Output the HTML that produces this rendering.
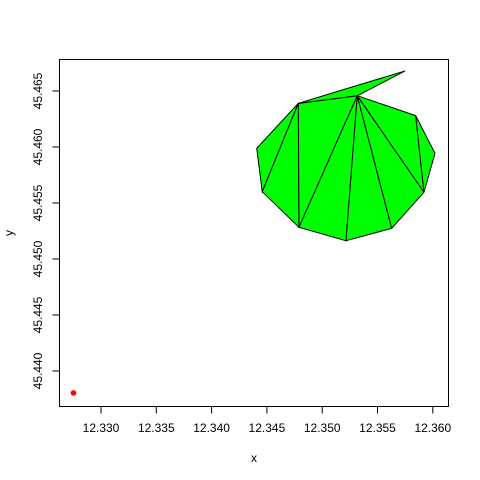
<!DOCTYPE html>
<html><head><meta charset="utf-8"><style>body{margin:0;background:#fff}svg{display:block}text{font-family:"Liberation Sans",sans-serif;font-size:12px;fill:#000}</style></head>
<body>
<svg id="c" width="480" height="480"></svg>
<script>
const xTicks=[12.330,12.335,12.340,12.345,12.350,12.355,12.360];
const yTicks=[45.440,45.445,45.450,45.455,45.460,45.465];
const hullX=[12.34784,12.35317,12.35749,12.35845,12.36020,12.35920,12.35628,12.35215,12.34790,12.34458,12.34408];
const hullY=[45.46390,45.46458,45.46679,45.46280,45.45944,45.45596,45.45274,45.45163,45.45283,45.45601,45.45988];
const triangles=[[0,10,9],[0,9,8],[0,8,1],[1,8,7],[1,7,6],[1,6,5],[1,5,3],[3,5,4],[0,1,2]];
const pointX=[12.32751];
const pointY=[45.43804];
const sx=v=>101+(v-12.330)*11060;
const sy=v=>371-(v-45.440)*11200;
const svg=document.getElementById('c');
const NS='http://www.w3.org/2000/svg';
function mk(t,a){const e=document.createElementNS(NS,t);for(const k in a)e.setAttribute(k,a[k]);svg.appendChild(e);return e;}
let e;
triangles.forEach(t=>{
 const p=mk('polygon',{points:t.map(i=>sx(hullX[i])+','+sy(hullY[i])).join(' '),fill:'#00ff00',stroke:'#000','stroke-width':1});
 
 
});
pointX.forEach((v,i)=>{
 const c=mk('circle',{cx:sx(v),cy:sy(pointY[i]),r:2.8,fill:'#ff0000'});
 
 
});
e=mk('rect',{x:59.5,y:59.5,width:389,height:347,fill:'none',stroke:'#000'});


xTicks.forEach(v=>{
 const x=sx(v);
 const l=mk('line',{x1:x,x2:x,y1:406.5,y2:413.5,stroke:'#000'});
 
 
 const t=mk('text',{x:x,y:432,'text-anchor':'middle'});t.textContent=v.toFixed(3);
 
 
});
yTicks.forEach(v=>{
 const y=sy(v);
 const l=mk('line',{x1:52.5,x2:59.5,y1:y,y2:y,stroke:'#000'});
 
 
 const t=mk('text',{x:42,y:y,'text-anchor':'middle',transform:`rotate(-90 42 ${y})`});t.textContent=v.toFixed(3);
 
 
});
e=mk('text',{x:254,y:462,'text-anchor':'middle'});e.textContent='x';


e=mk('text',{x:13,y:233,'text-anchor':'middle',transform:'rotate(-90 13 233)'});e.textContent='y';


</script>
</body></html>
